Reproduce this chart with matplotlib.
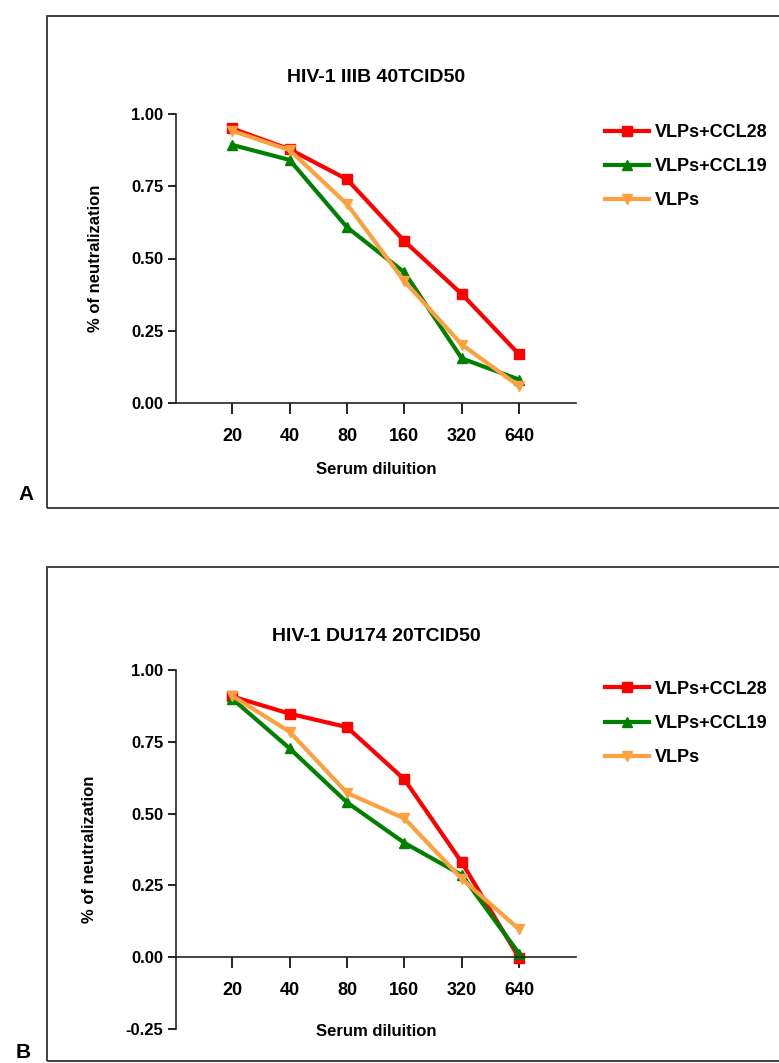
import matplotlib
matplotlib.use("Agg")
import matplotlib.pyplot as plt
from matplotlib.patches import Rectangle
from matplotlib import rcParams

rcParams.update({
    "font.family": ["Liberation Sans Narrow", "Liberation Sans", "DejaVu Sans"],
    "font.weight": "bold",
    "font.size": 12,
})

# data
dilutions = ["20", "40", "80", "160", "320", "640"]
series_names = ["VLPs+CCL28", "VLPs+CCL19", "VLPs"]

a_title = "HIV-1 IIIB 40TCID50"
a_ccl28 = [0.95, 0.878, 0.774, 0.56, 0.377, 0.168]
a_ccl19 = [0.893, 0.841, 0.608, 0.452, 0.154, 0.081]
a_vlps = [0.942, 0.875, 0.688, 0.421, 0.202, 0.058]

b_title = "HIV-1 DU174 20TCID50"
b_ccl28 = [0.908, 0.848, 0.801, 0.619, 0.330, -0.003]
b_ccl19 = [0.900, 0.727, 0.539, 0.398, 0.286, 0.012]
b_vlps = [0.910, 0.785, 0.572, 0.483, 0.273, 0.097]

colors = ["#ff0000", "#008000", "#ffa040"]
markers = ["s", "^", "v"]

W, H = 779, 1063
fig = plt.figure(figsize=(W / 100, H / 100), dpi=100)


def px_axes(left, top, right, bottom):
    return fig.add_axes([left / W, 1 - bottom / H, (right - left) / W, (bottom - top) / H])


# panel boxes
for top, bottom in [(16, 508), (567, 1061)]:
    fig.patches.append(Rectangle((47 / W, 1 - bottom / H), (W - 47 + 10) / W, (bottom - top) / H,
                                 transform=fig.transFigure, fill=False, edgecolor="#333333",
                                 linewidth=1.3))


def panel(ax, title, data, ylim, yticks, ylab_x, title_pad):
    x = list(range(len(dilutions)))
    for vals, name, c, m in zip(data, series_names, colors, markers):
        ax.plot(x, vals, color=c, marker=m, markersize=7, linewidth=3, label=name, clip_on=False)
    ax.set_xlim(-0.98, 5.99)
    ax.set_ylim(*ylim)
    ax.set_yticks(yticks)
    ax.set_yticklabels(["%.2f" % v for v in yticks])
    ax.set_xticks(x)
    ax.set_xticklabels(dilutions)
    for s in ["top", "right"]:
        ax.spines[s].set_visible(False)
    ax.spines["bottom"].set_position(("data", 0))
    for s in ["left", "bottom"]:
        ax.spines[s].set_linewidth(1.2)
        ax.spines[s].set_color("#222222")
    ax.tick_params(axis="x", length=8, width=1.2, pad=10, labelsize=13)
    ax.tick_params(axis="y", length=6, width=1.2, pad=3, labelsize=12)
    ax.set_title(title, fontsize=14, fontweight="bold", pad=title_pad)
    ax.set_ylabel("% of neutralization", fontsize=12, fontweight="bold")
    ax.yaxis.set_label_coords(ylab_x, 0.5)
    ax.set_xlabel("Serum diluition", fontsize=12, fontweight="bold")
    ax.legend(loc="upper left", bbox_to_anchor=(1.055, 0.99), frameon=False,
              handlelength=2.4, handletextpad=0.35, labelspacing=0.95, fontsize=13,
              borderaxespad=0)
    ax.patch.set_alpha(0)


axA = px_axes(176, 114, 576, 403)
panel(axA, a_title, [a_ccl28, a_ccl19, a_vlps], (0, 1.0), [0, 0.25, 0.5, 0.75, 1.0], -0.183, 23)
axA.xaxis.set_label_coords(0.5, -0.203)

axB = px_axes(176, 670, 576, 1029)
panel(axB, b_title, [b_ccl28, b_ccl19, b_vlps], (-0.25, 1.0), [-0.25, 0, 0.25, 0.5, 0.75, 1.0], -0.198, 21)
axB.xaxis.set_label_coords(0.5, 0.014)

fig.text(18 / W, 1 - 494 / H, "A", fontsize=15, fontweight="bold", va="center", ha="left")
fig.text(16 / W, 1 - 1053 / H, "B", fontsize=15, fontweight="bold", va="center", ha="left")

fig.savefig("out.png", dpi=100)
